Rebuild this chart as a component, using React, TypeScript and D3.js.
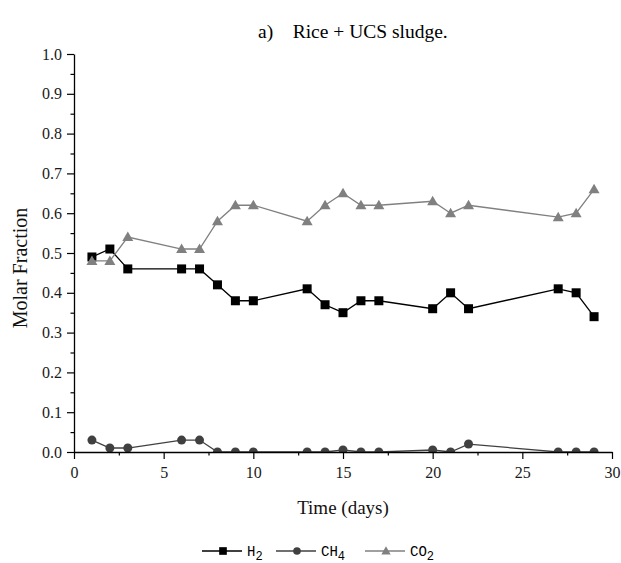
import { useEffect, useRef } from 'react'
import * as d3 from 'd3'

const days = [1, 2, 3, 6, 7, 8, 9, 10, 13, 14, 15, 16, 17, 20, 21, 22, 27, 28, 29]
const h2 = [0.49, 0.51, 0.46, 0.46, 0.46, 0.42, 0.38, 0.38, 0.41, 0.37, 0.35, 0.38, 0.38, 0.36, 0.4, 0.36, 0.41, 0.4, 0.34]
const ch4 = [0.03, 0.01, 0.01, 0.03, 0.03, 0.0, 0.0, 0.0, 0.0, 0.0, 0.005, 0.0, 0.0, 0.005, 0.0, 0.02, 0.0, 0.0, 0.0]
const co2 = [0.48, 0.48, 0.54, 0.51, 0.51, 0.58, 0.62, 0.62, 0.58, 0.62, 0.65, 0.62, 0.62, 0.63, 0.6, 0.62, 0.59, 0.6, 0.66]

const xTicks = [0, 5, 10, 15, 20, 25, 30]
const yTicks = [0, 0.1, 0.2, 0.3, 0.4, 0.5, 0.6, 0.7, 0.8, 0.9, 1.0]

const series = [
  { key: 'h2', name: 'H', sub: '2', values: h2, color: '#000000', marker: 'square' },
  { key: 'ch4', name: 'CH', sub: '4', values: ch4, color: '#404040', marker: 'circle' },
  { key: 'co2', name: 'CO', sub: '2', values: co2, color: '#808080', marker: 'triangle' },
]

const W = 621
const H = 563
const margin = { top: 54, right: 9, bottom: 111, left: 74 }
const serif = '"Liberation Serif", "Times New Roman", serif'

export default function App() {
  const ref = useRef<SVGSVGElement>(null)

  useEffect(() => {
    if (!ref.current) return
    d3.select(ref.current).selectAll('*').remove()
    render(ref.current)
  }, [])

  return (
    <svg
      ref={ref}
      width={W}
      height={H}
      style={{ position: 'absolute', left: 0, top: 0, background: '#fff', display: 'block' }}
    />
  )
}

function drawMarker(
  sel: d3.Selection<SVGGElement, unknown, null, undefined>,
  kind: string, x: number, y: number, color: string, k = 1
) {
  if (kind === 'square') {
    sel.append('rect')
      .attr('x', x - 4.5 * k).attr('y', y - 4.5 * k)
      .attr('width', 9 * k).attr('height', 9 * k)
      .attr('fill', color)
  } else if (kind === 'circle') {
    sel.append('circle')
      .attr('cx', x).attr('cy', y).attr('r', 4.5 * k)
      .attr('fill', color)
  } else {
    sel.append('path')
      .attr('d', `M${x},${y - 5.5 * k}L${x + 5.5 * k},${y + 4 * k}L${x - 5.5 * k},${y + 4 * k}Z`)
      .attr('fill', color)
  }
}

function render(el: SVGSVGElement) {
  const inner = { w: W - margin.left - margin.right, h: H - margin.top - margin.bottom }
  const svg = d3.select(el)

  svg.append('rect').attr('width', W).attr('height', H).attr('fill', '#fff')

  svg.append('defs').append('clipPath').attr('id', 'plot-clip')
    .append('rect').attr('x', 0).attr('y', -10).attr('width', inner.w + 10).attr('height', inner.h + 10)

  const g = svg.append('g').attr('transform', `translate(${margin.left},${margin.top})`)

  const x = d3.scaleLinear().domain([0, 30]).range([0, inner.w])
  const y = d3.scaleLinear().domain([0, 1]).range([inner.h, 0])

  const plot = g.append('g').attr('clip-path', 'url(#plot-clip)')

  // Series: lines then markers
  series.forEach((s) => {
    const pts = days.map((d, i) => [d, s.values[i]] as [number, number])
    const line = d3.line<[number, number]>().x((d) => x(d[0])).y((d) => y(d[1]))
    plot.append('path')
      .attr('d', line(pts))
      .attr('fill', 'none')
      .attr('stroke', s.color)
      .attr('stroke-width', 1.3)
    const mg = plot.append('g')
    pts.forEach((p) => drawMarker(mg, s.marker, x(p[0]), y(p[1]), s.color))
  })

  // X axis
  const xAxis = g.append('g').attr('transform', `translate(0,${inner.h})`)
  xAxis.call(d3.axisBottom(x).tickValues(xTicks).tickSize(7).tickSizeOuter(0).tickPadding(8).tickFormat(d3.format('d')))
  xAxis.append('g')
    .call(d3.axisBottom(x).tickValues(d3.range(2.5, 30, 5)).tickSize(3.5).tickFormat(() => ''))
    .call((sel) => sel.select('.domain').remove())
  xAxis.attr('font-family', serif).attr('font-size', 16)
  xAxis.select('.domain').attr('stroke', '#000').attr('stroke-width', 1.3)
  xAxis.selectAll('line').attr('stroke', '#000').attr('stroke-width', 1.2)
  xAxis.selectAll('text')
    .attr('font-family', serif)
    .attr('font-size', 16)
    .attr('fill', '#1a1a1a')

  // Y axis
  const yAxis = g.append('g')
  yAxis.call(d3.axisLeft(y).tickValues(yTicks).tickSize(7).tickSizeOuter(0).tickPadding(5).tickFormat(d3.format('.1f')))
  yAxis.append('g')
    .call(d3.axisLeft(y).tickValues(d3.range(0.05, 1, 0.1)).tickSize(3.5).tickFormat(() => ''))
    .call((sel) => sel.select('.domain').remove())
  yAxis.attr('font-family', serif).attr('font-size', 16)
  yAxis.select('.domain').attr('stroke', '#000').attr('stroke-width', 1.3)
  yAxis.selectAll('line').attr('stroke', '#000').attr('stroke-width', 1.2)
  yAxis.selectAll('text')
    .attr('font-family', serif)
    .attr('font-size', 16)
    .attr('fill', '#1a1a1a')

  // Title
  svg.append('text')
    .attr('x', 258)
    .attr('y', 38)
    .attr('font-family', serif)
    .attr('font-size', 19.5)
    .attr('fill', '#000')
    .attr('xml:space', 'preserve')
    .text('a)    Rice + UCS sludge.')

  // Axis labels
  svg.append('text')
    .attr('x', margin.left + inner.w / 2)
    .attr('y', 514)
    .attr('text-anchor', 'middle')
    .attr('font-family', serif)
    .attr('font-size', 19)
    .attr('fill', '#111')
    .text('Time (days)')

  svg.append('text')
    .attr('transform', 'rotate(-90)')
    .attr('x', -268)
    .attr('y', 27)
    .attr('text-anchor', 'middle')
    .attr('font-family', serif)
    .attr('font-size', 20)
    .attr('fill', '#111')
    .text('Molar Fraction')

  // Legend
  const legendY = 551
  const legendStarts = [202, 276, 365]
  series.forEach((s, i) => {
    const lx = legendStarts[i]
    const lg = svg.append('g')
    lg.append('line')
      .attr('x1', lx).attr('x2', lx + 40)
      .attr('y1', legendY).attr('y2', legendY)
      .attr('stroke', s.color).attr('stroke-width', 1.3)
    drawMarker(lg, s.marker, lx + 21, legendY, s.color, 0.85)
    const t = lg.append('text')
      .attr('x', lx + 45)
      .attr('y', legendY + 5)
      .attr('font-family', '"Liberation Mono", "Courier New", monospace')
      .attr('font-size', 14)
      .attr('fill', '#000')
    t.append('tspan').text(s.name)
    t.append('tspan').attr('dy', 4).attr('font-size', 12).text(s.sub)
  })
}
